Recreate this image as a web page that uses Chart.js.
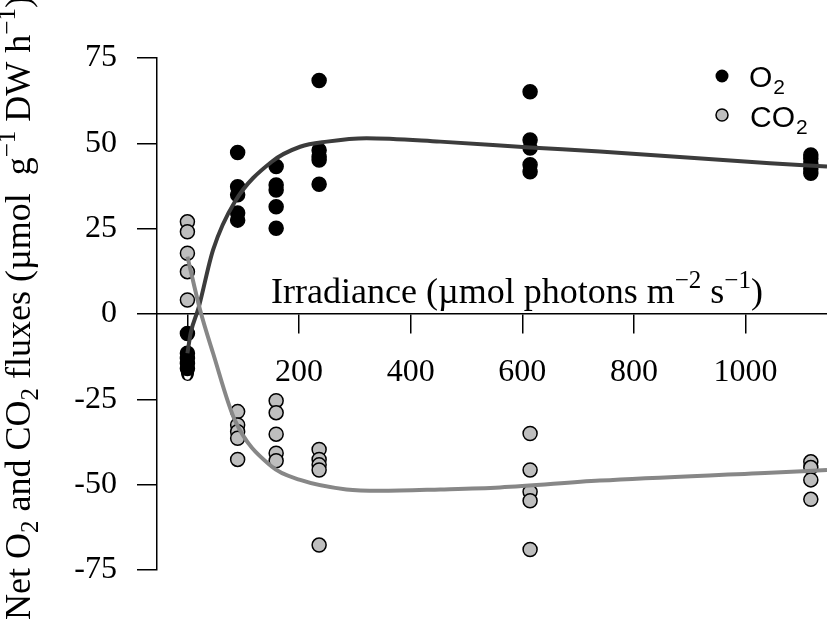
<!DOCTYPE html>
<html>
<head>
<meta charset="utf-8">
<script src="https://cdn.jsdelivr.net/npm/chart.js@4/dist/chart.umd.min.js"></script>
<style>
  html, body { margin: 0; padding: 0; background: #fff; }
  #chart { display: block; }
</style>
</head>
<body>
<canvas id="chart" width="827" height="621"></canvas>
<script>
// tick labels
const irradianceTicks = [0, 200, 400, 600, 800, 1000];
const fluxTicks = [-75, -50, -25, 0, 25, 50, 75];

// measured O2 fluxes (black dots)
const o2Irradiance = [0, 0, 0, 0, 0, 90, 90, 90, 90, 90, 159, 159, 159, 159, 159,
  236, 236, 236, 236, 236, 614, 614, 614, 614, 614, 1117, 1117, 1117, 1117, 1117];
const o2Flux = [-5.7, -11.5, -13, -14.5, -16, 47.3, 37.3, 34.9, 29.6, 27.5, 43.2, 37.8, 36.3, 31.4, 25.1,
  68.4, 48.0, 46.1, 45.1, 38.0, 65.1, 51.0, 48.6, 43.7, 41.7, 46.6, 45.5, 44.0, 42.5, 41.2];

// measured CO2 fluxes (grey dots)
const co2Irradiance = [0, 0, 0, 0, 0, 90, 90, 90, 90, 90, 159, 159, 159, 159, 159,
  236, 236, 236, 236, 236, 614, 614, 614, 614, 614, 1117, 1117, 1117, 1117];
const co2Flux = [27.0, 24.1, 17.8, 12.4, 4.1, -28.6, -32.5, -34.5, -36.4, -42.6, -25.4, -28.9, -35.2, -40.8, -43.0,
  -39.7, -42.6, -44.2, -45.7, -67.7, -35.0, -45.7, -52.1, -54.7, -69.0, -43.3, -45.0, -48.6, -54.3];

// fitted curves
const o2FitIrradiance = [0, 6, 20, 46, 85, 151, 202, 250, 321, 453, 614, 739, 1044, 1146];
const o2FitFlux = [-11.5, -5.5, 1.8, 18.8, 32.9, 44.6, 49.0, 50.5, 51.5, 50.5, 48.8, 47.6, 44.2, 43.2];
const co2FitIrradiance = [0, 23, 46, 85, 151, 202, 285, 345, 453, 560, 739, 1044, 1146];
const co2FitFlux = [16.8, 1.0, -11.5, -31.1, -44.7, -48.6, -51.4, -51.8, -51.4, -50.8, -48.8, -46.5, -45.7];

function toPoints(xs, ys) {
    return xs.map((x, i) => ({ x: x, y: ys[i] }));
}

const SERIF = '"Liberation Serif", "Times New Roman", serif';
const SANS = '"Liberation Sans", Arial, sans-serif';

// parts: [text, shift] with shift 0 normal, -1 subscript, 1 superscript
function richWidth(ctx, parts, size, family) {
    let w = 0;
    parts.forEach(p => {
        ctx.font = (p[1] === 0 ? size : Math.round(size * 0.7)) + 'px ' + family;
        w += ctx.measureText(p[0]).width;
    });
    return w;
}

function drawRich(ctx, parts, x, y, size, family) {
    let cx = x - richWidth(ctx, parts, size, family) / 2;
    ctx.textAlign = 'left';
    ctx.textBaseline = 'alphabetic';
    parts.forEach(p => {
        const small = Math.round(size * 0.7);
        ctx.font = (p[1] === 0 ? size : small) + 'px ' + family;
        let dy = 0;
        if (p[1] === 1) dy = -size * 0.42;
        if (p[1] === -1) dy = size * 0.22;
        ctx.fillText(p[0], cx, y + dy);
        cx += ctx.measureText(p[0]).width;
    });
}

const labelsPlugin = {
    id: 'labels',
    afterDraw(chart) {
        const ctx = chart.ctx;
        ctx.save();
        ctx.fillStyle = '#000';

        // x title sits above the axis line
        drawRich(ctx, [['Irradiance (µmol photons m', 0], ['−2', 1], [' s', 0], ['−1', 1], [')', 0]],
            517, 303, 36, SERIF);

        // y title
        ctx.save();
        ctx.translate(30, 308);
        ctx.rotate(-Math.PI / 2);
        drawRich(ctx, [['Net O', 0], ['2', -1], [' and CO', 0], ['2', -1], [' fluxes (µmol  g', 0],
            ['−1', 1], [' DW h', 0], ['−1', 1], [')', 0]], 0, 0, 36, SERIF);
        ctx.restore();

        // legend
        ctx.lineWidth = 1.5;
        ctx.strokeStyle = '#000';
        ctx.beginPath();
        ctx.arc(722, 76, 6.5, 0, Math.PI * 2);
        ctx.fillStyle = '#000';
        ctx.fill();
        ctx.beginPath();
        ctx.arc(722, 115, 6, 0, Math.PI * 2);
        ctx.fillStyle = '#bebebe';
        ctx.fill();
        ctx.stroke();

        ctx.fillStyle = '#000';
        ctx.textAlign = 'left';
        ctx.textBaseline = 'alphabetic';
        ctx.font = '30px ' + SANS;
        ctx.fillText('O', 749, 87);
        let w = ctx.measureText('O').width;
        ctx.font = '21px ' + SANS;
        ctx.fillText('2', 749 + w + 1, 94);
        ctx.font = '30px ' + SANS;
        ctx.fillText('CO', 750, 127);
        w = ctx.measureText('CO').width;
        ctx.font = '21px ' + SANS;
        ctx.fillText('2', 750 + w + 1, 134);
        ctx.restore();
    }
};

const ctx = document.getElementById('chart').getContext('2d');
new Chart(ctx, {
    type: 'scatter',
    data: {
        datasets: [
            {
                label: 'O2 fit',
                type: 'line',
                data: toPoints(o2FitIrradiance, o2FitFlux),
                borderColor: '#3c3c3c',
                borderWidth: 4,
                pointRadius: 0,
                cubicInterpolationMode: 'monotone',
                fill: false,
                clip: false,
                order: 1
            },
            {
                label: 'CO2 fit',
                type: 'line',
                data: toPoints(co2FitIrradiance, co2FitFlux),
                borderColor: '#878787',
                borderWidth: 4,
                pointRadius: 0,
                cubicInterpolationMode: 'monotone',
                fill: false,
                clip: false,
                order: 0
            },
            {
                label: 'O2',
                data: toPoints(o2Irradiance, o2Flux),
                backgroundColor: '#000',
                borderColor: '#000',
                borderWidth: 1.5,
                pointRadius: 7,
                clip: false,
                order: 3
            },
            {
                label: 'CO2',
                data: toPoints(co2Irradiance, co2Flux),
                backgroundColor: '#bebebe',
                borderColor: '#000',
                borderWidth: 1.5,
                pointRadius: 7,
                clip: false,
                order: 2
            }
        ]
    },
    options: {
        responsive: false,
        animation: false,
        devicePixelRatio: 1,
        layout: { autoPadding: false, padding: { top: 58, bottom: 51, left: 0, right: 0 } },
        plugins: {
            legend: { display: false },
            tooltip: { enabled: false }
        },
        scales: {
            x: {
                type: 'linear',
                position: { y: 0 },
                min: -54.5,
                max: 1146,
                afterBuildTicks: s => { s.ticks = irradianceTicks.map(v => ({ value: v })); },
                afterFit: s => { s.paddingLeft = 0; s.paddingRight = 0; },
                grid: { drawOnChartArea: false, drawTicks: true, tickLength: 19, color: '#000', lineWidth: 1.5 },
                border: { display: true, color: '#000', width: 1.5 },
                ticks: {
                    color: '#000',
                    padding: 20,
                    maxRotation: 0,
                    font: { family: SERIF, size: 32 },
                    callback: v => String(v)
                }
            },
            y: {
                type: 'linear',
                position: 'left',
                min: -75,
                max: 75,
                afterBuildTicks: s => { s.ticks = fluxTicks.map(v => ({ value: v })); },
                afterFit: s => { s.width = 157; s.paddingTop = 0; s.paddingBottom = 0; },
                grid: { drawOnChartArea: false, drawTicks: true, tickLength: 20, color: '#000', lineWidth: 1.5 },
                border: { display: true, color: '#000', width: 1.5 },
                ticks: {
                    color: '#000',
                    padding: 20,
                    font: { family: SERIF, size: 32 },
                    callback: v => String(v)
                }
            }
        }
    },
    plugins: [labelsPlugin]
});
</script>
</body>
</html>
